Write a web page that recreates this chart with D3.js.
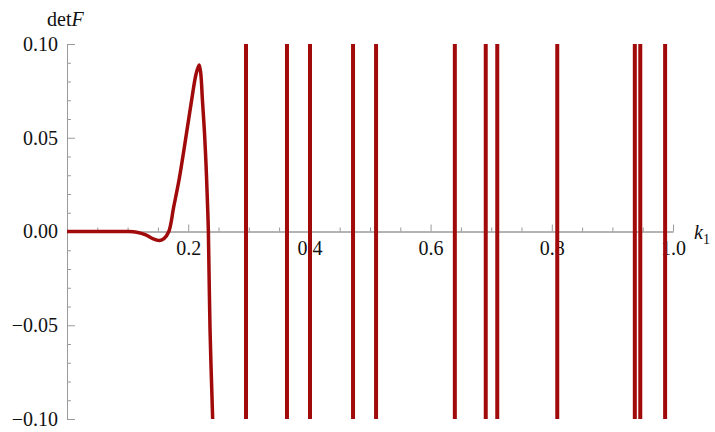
<!DOCTYPE html>
<html><head>
<meta charset="utf-8">
<script src="https://d3js.org/d3.v7.min.js"></script>
<style>
body { margin: 0; background: white; }
text { font-family: "Liberation Serif", "Times New Roman", serif; }
.axis path, .axis line { stroke: #9a9a9a; }
</style>
</head><body>
<svg id="chart"></svg>
<script>
var width = 715, height = 432;

// smooth part of det F
var kVals = [0, 0.05, 0.10, 0.115, 0.13, 0.14, 0.153, 0.16, 0.168, 0.176, 0.185, 0.193, 0.2057, 0.213, 0.218, 0.2205, 0.2235, 0.227, 0.2295, 0.2315, 0.2333, 0.236, 0.2404];
var detVals = [0, 0, 0, -0.0004, -0.0018, -0.0036, -0.0048, -0.0038, 0, 0.013, 0.0277, 0.0436, 0.0702, 0.084, 0.0888, 0.085, 0.070, 0.052, 0.035, 0.018, 0, -0.052, -0.10];
// poles, drawn as vertical lines across the full range
var poles = [0.2954, 0.363, 0.401, 0.472, 0.510, 0.640, 0.691, 0.710, 0.809, 0.937, 0.946, 0.987];

var xMajor = [0.2, 0.4, 0.6, 0.8, 1.0];
var yMajor = [-0.10, -0.05, 0, 0.05, 0.10];

var red = "#a10a0a";

var x = d3.scaleLinear().domain([0, 1]).range([67, 673]);
var y = d3.scaleLinear().domain([-0.1, 0.1]).range([419, 44]);

var svg = d3.select("#chart").attr("width", width).attr("height", height);

svg.append("defs").append("clipPath").attr("id", "clip")
  .append("rect").attr("x", 60).attr("y", y(0.1)).attr("width", 640).attr("height", y(-0.1) - y(0.1));

// minor ticks
var xMinor = d3.range(0.05, 1.001, 0.05).filter(function(d) { return Math.abs(d * 5 - Math.round(d * 5)) > 1e-6; });
var yMinor = d3.range(-0.1, 0.1001, 0.01).filter(function(d) { return Math.abs(d * 20 - Math.round(d * 20)) > 1e-6; });

svg.append("g").attr("class", "axis")
  .attr("transform", "translate(" + x(0) + ",0)")
  .call(d3.axisLeft(y).tickValues(yMinor).tickFormat("").tickSizeInner(-4).tickSizeOuter(0));

svg.append("g").attr("class", "axis")
  .attr("transform", "translate(0," + y(0) + ")")
  .call(d3.axisBottom(x).tickValues(xMinor).tickFormat("").tickSizeInner(-4).tickSizeOuter(0));

svg.append("g").attr("class", "axis")
  .attr("transform", "translate(" + x(0) + ",0)")
  .call(d3.axisLeft(y).tickValues(yMajor).tickFormat(d3.format(".2f")).tickSizeInner(-8).tickSizeOuter(0).tickPadding(9));

svg.append("g").attr("class", "axis")
  .attr("transform", "translate(0," + y(0) + ")")
  .call(d3.axisBottom(x).tickValues(xMajor).tickFormat(d3.format(".1f")).tickSizeInner(-7).tickSizeOuter(0).tickPadding(9));

svg.selectAll(".axis").attr("font-family", "Liberation Serif");
svg.selectAll(".axis text").attr("font-size", 20).attr("fill", "#111")
  .attr("font-family", "Liberation Serif");

// curve
var pts = kVals.map(function(k, i) { return [k, detVals[i]]; });
svg.append("path")
  .datum(pts)
  .attr("clip-path", "url(#clip)")
  .attr("fill", "none")
  .attr("stroke", red)
  .attr("stroke-width", 3.5)
  .attr("stroke-linejoin", "round")
  .attr("d", d3.line().x(function(d) { return x(d[0]); }).y(function(d) { return y(d[1]); }).curve(d3.curveCatmullRom.alpha(0.5)));

svg.selectAll(".pole")
  .data(poles)
  .enter().append("line")
  .attr("class", "pole")
  .attr("x1", function(d) { return x(d); })
  .attr("x2", function(d) { return x(d); })
  .attr("y1", y(0.1))
  .attr("y2", y(-0.1))
  .attr("stroke", red)
  .attr("stroke-width", 4);

// axis labels
var yl = svg.append("text").attr("x", 47).attr("y", 26).attr("font-size", 20).attr("fill", "#111");
yl.append("tspan").text("det");
yl.append("tspan").attr("font-style", "italic").text("F");

var xl = svg.append("text").attr("x", 694).attr("y", 239).attr("font-size", 20).attr("fill", "#111");
xl.append("tspan").attr("font-style", "italic").text("k");
xl.append("tspan").attr("font-size", 14).attr("dy", 5).text("1");
</script>
</body></html>
